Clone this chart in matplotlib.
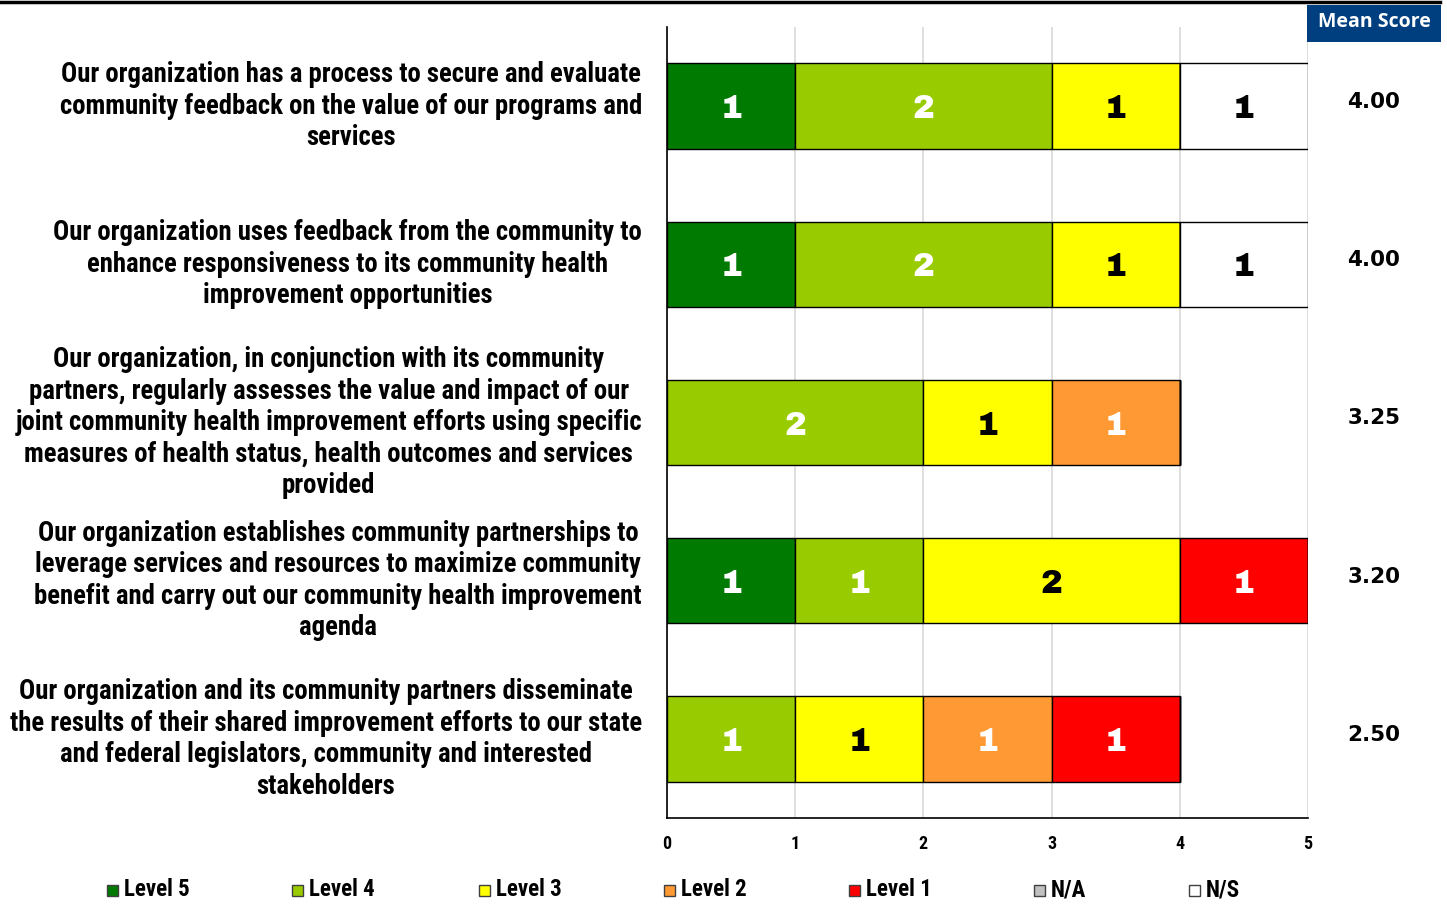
import matplotlib
matplotlib.use("Agg")
import matplotlib.pyplot as plt
from matplotlib.patches import Rectangle
from matplotlib.lines import Line2D

# Survey statements (top to bottom)
statements = [
    "Our organization has a process to secure and evaluate\ncommunity feedback on the value of our programs and\nservices",
    "Our organization uses feedback from the community to\nenhance responsiveness to its community health\nimprovement opportunities",
    "Our organization, in conjunction with its community\npartners, regularly assesses the value and impact of our\njoint community health improvement efforts using specific\nmeasures of health status, health outcomes and services\nprovided",
    "Our organization establishes community partnerships to\nleverage services and resources to maximize community\nbenefit and carry out our community health improvement\nagenda",
    "Our organization and its community partners disseminate\nthe results of their shared improvement efforts to our state\nand federal legislators, community and interested\nstakeholders",
]

levels = ["Level 5", "Level 4", "Level 3", "Level 2", "Level 1", "N/A", "N/S"]
level_colors = ["#007A00", "#99CC00", "#FFFF00", "#FF9933", "#FF0000", "#C0C0C0", "#FFFFFF"]
label_colors = ["white", "white", "black", "white", "white", "black", "black"]

# Response counts per statement, one list per level
level5 = [1, 1, 0, 1, 0]
level4 = [2, 2, 2, 1, 1]
level3 = [1, 1, 1, 2, 1]
level2 = [0, 0, 1, 0, 1]
level1 = [0, 0, 0, 1, 1]
n_a = [0, 0, 0, 0, 0]
n_s = [1, 1, 0, 0, 0]
counts = [level5, level4, level3, level2, level1, n_a, n_s]

mean_scores = [4.00, 4.00, 3.25, 3.20, 2.50]

x_ticks = [0, 1, 2, 3, 4, 5]

NARROW = ["Roboto Condensed", "PT Sans Narrow", "DejaVu Sans"]
HEAVY = ["Archivo Black", "DejaVu Sans"]

W, H = 1447, 911
fig = plt.figure(figsize=(W / 100, H / 100), dpi=100)
ax = fig.add_axes([667 / W, 1 - 818 / H, (1308 - 667) / W, (818 - 27) / H])

ypos = list(range(len(statements)))
left = [0.0] * len(statements)
for lvl, vals, col, tcol in zip(levels, counts, level_colors, label_colors):
    bars = ax.barh(ypos, vals, left=left, height=0.54, color=col,
                   edgecolor="black", linewidth=1.0, zorder=3)
    for b, v in zip(bars, vals):
        if v > 0:
            ax.text(b.get_x() + b.get_width() / 2, b.get_y() + b.get_height() / 2,
                    f"{v}", ha="center", va="center_baseline", color=tcol,
                    fontsize=23.5, family=HEAVY, zorder=4)
    left = [l + v for l, v in zip(left, vals)]

ax.set_xlim(0, 5)
ax.set_ylim(len(statements) - 0.5, -0.5)
ax.set_xticks(x_ticks)
ax.set_xticklabels([str(t) for t in x_ticks], family=NARROW, fontweight="bold", fontsize=13)
ax.tick_params(axis="x", length=0, pad=12)
ax.set_yticks([])
ax.grid(axis="x", color="#D9D9D9", linewidth=1.2, zorder=0)
ax.spines["top"].set_visible(False)
ax.spines["right"].set_visible(False)
for side in ("left", "bottom"):
    ax.spines[side].set_color("black")
    ax.spines[side].set_linewidth(1.2)

# Statement labels, right edge aligned against the plot
for y, s in zip(ypos, statements):
    ax.annotate(s, xy=(642 / W, y), xycoords=("figure fraction", "data"),
                ha="right", va="center", multialignment="center",
                family=NARROW, fontweight="bold", fontsize=19.3, linespacing=1.21)

# Mean score column, set slightly above each bar's centre line
for y, m in zip(ypos, mean_scores):
    ax.annotate(f"{m:.2f}", xy=(1374 / W, y), xycoords=("figure fraction", "data"),
                xytext=(0, 3), textcoords="offset points",
                ha="center", va="center", family="DejaVu Sans",
                fontweight="bold", fontsize=15.5)

fig.add_artist(Rectangle((1307 / W, 1 - 42 / H), (1441 - 1307) / W, 37 / H,
                         transform=fig.transFigure, facecolor="#003F7F", edgecolor="none"))
fig.text(1374 / W, 1 - 22 / H, "Mean Score", ha="center", va="center", color="white",
         family="Open Sans", fontweight="bold", fontsize=14)

# Rule across the top
fig.add_artist(Line2D([0, 1440 / W], [1 - 1.5 / H, 1 - 1.5 / H],
                      transform=fig.transFigure, color="black", linewidth=2.5))

# Legend row
legend_x = [108, 293, 480, 665, 850, 1035, 1190]
for x, lvl, col in zip(legend_x, levels, level_colors):
    fig.add_artist(Rectangle(((x - 1) / W, 1 - 896 / H), 11 / W, 11 / H,
                             transform=fig.transFigure, facecolor=col,
                             edgecolor="#404040", linewidth=1.0))
    fig.text((x + 16) / W, 1 - 890 / H, lvl, ha="left", va="center",
             family=NARROW, fontweight="bold", fontsize=16.5)

fig.savefig("out.png", dpi=100)
